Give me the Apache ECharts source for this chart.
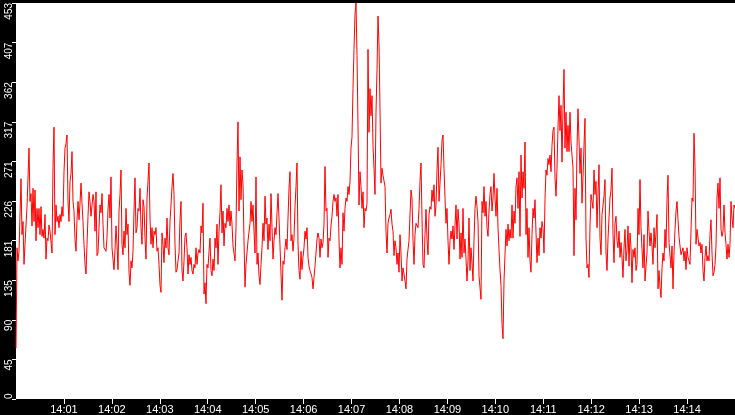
<!DOCTYPE html>
<html>
<head>
<meta charset="utf-8">
<script src="https://cdn.jsdelivr.net/npm/echarts@6/dist/echarts.min.js"></script>
<style>
html,body{margin:0;padding:0;background:#000;}
#chart{width:735px;height:415px;}
</style>
</head>
<body>
<div id="chart"></div>
<script>
// X tick labels (minutes) and their positions in seconds after 14:00:00
const minuteLabels = ['14:01','14:02','14:03','14:04','14:05','14:06','14:07','14:08','14:09','14:10','14:11','14:12','14:13','14:14'];
const minuteSeconds = [60,120,180,240,300,360,420,480,540,600,660,720,780,840];
// Y tick values
const yMax = 453;
const yStep = 45.3;

// Series values (one sample per ~1.25 s, 14:00:00 .. 14:15:00)
const seg1 = [58,173,158,169,169,252,188,203,154,177,177,220,222,287,226,235,198,241,203,239,181,218,196,218,188,220,186,194,184,211,160,184,181,199,192,192,167,266,311,188,222,203,209,196,211,203,220,209,260,287,292,302,226,203,249,258,283,226,215,182,169,205,226,205,224,247,224,203,177,154,143,177,209,237,226,209,211,234,226,192,237];
const seg2 = [164,167,196,222,213,235,200,173,175,169,184,217,234,207,254,173,160,148,171,198,177,148,215,234,262,177,165,192,173,218,188,200,145,130,158,150,169,215,253,190,196,218,215,241,196,177,228,220,184,160,230,249,270,207,177,196,173,192,188,196,169,173,154,130,122,190,177,156,184,173,207,173,165,203,222,243,258,234,177,145];
const seg3 = [148,158,167,205,226,147,135,158,186,190,173,143,165,154,162,147,143,154,150,173,154,167,171,167,198,190,224,120,133,109,154,150,169,184,147,141,160,147,184,173,200,154,192,213,245,190,215,175,201,196,218,203,222,198,215,200,175,167,158,196,271,317,215,277,228,262,245,181,128,154,152,181,179,201,226,203,222,192,167,254];
const seg4 = [154,167,141,131,154,173,201,181,232,200,207,171,200,181,235,196,160,181,196,188,213,235,207,209,143,113,158,154,173,183,171,207,241,260,181,188,169,184,220,243,270,177,147,137,169,148,162,173,192,183,196,162,152,147,148,139,126,139,152,167,183,190,184,162,183,173,179,200,266,215,218,162,184,181,198,209,226,234,226,230];
const seg5 = [209,234,182,150,173,154,213,192,218,230,226,243,234,249,287,300,355,400,440,453,393,313,222,260,243,218,237,196,218,215,224,400,305,355,324,347,290,264,234,328,377,438,406,332,247,264,256,258,243,192,167,201,207,211,217,200,192,164,181,173,154,167,145,188,167,135,150,143,135,126,160,171,181,211,239,230,181,154,188,201];
const seg6 = [200,196,218,249,270,207,154,150,188,217,183,165,211,220,217,239,226,245,209,222,262,288,226,247,268,296,302,264,230,201,218,181,154,181,192,183,198,171,198,222,183,217,201,160,190,162,218,167,183,160,135,158,207,147,173,156,135,181,218,232,220,203,141,143,114,226,213,243,209,226,196,186,215,234,243,215,230,258,230,209];
const seg7 = [241,196,171,148,130,86,69,135,165,194,175,200,181,194,184,222,184,215,201,243,253,218,260,186,279,230,260,241,294,188,218,162,196,158,145,188,218,207,228,190,156,184,164,196,184,203,196,167,228,262,256,275,268,279,260,290,307,311,253,232,264,311,347,307,336,271,332,377,287,328,283,313,283,328,294,279,264,164,241,205];
const seg8 = [288,332,296,258,287,224,254,290,321,184,150,154,139,198,234,226,218,262,234,249,196,235,268,184,165,211,211,232,251,167,147,183,207,230,239,264,188,156,201,209,181,173,192,162,179,162,139,173,194,158,171,198,152,190,173,133,171,162,173,147,154,218,188,251,196,171,150,188,135,152,167,215,192,175,190,175,154,196,173,190];
const seg9 = [211,126,147,128,116,150,167,158,194,173,228,256,179,181,150,175,126,167,194,215,226,205,186,175,165,167,173,158,169,148,173,162,158,154,154,230,226,304,266,177,194,192,175,179,167,177,147,135,162,175,158,164,158,188,205,167,141,145,154,175,230,247,218,253,194,186,192,222,190,177,160,177,162,177,226,207,196,222,218];

const values = [].concat(seg1, seg2, seg3, seg4, seg5, seg6, seg7, seg8, seg9);
const totalSeconds = 900;
const sampleStep = totalSeconds / (values.length - 1);
const seriesData = values.map((v, i) => [i * sampleStep, v]);

const chart = echarts.init(document.getElementById('chart'), null, {renderer: 'canvas'});
chart.setOption({
  backgroundColor: '#000',
  animation: false,
  grid: {
    left: 16, right: 0, top: 0, bottom: 16,
    show: true, backgroundColor: '#fff', borderWidth: 0,
    containLabel: false
  },
  xAxis: {
    type: 'value',
    min: 0, max: totalSeconds, interval: 60,
    splitLine: {show: false},
    axisLine: {show: false},
    axisTick: {show: true, length: 5, lineStyle: {color: '#fff', width: 1}, customValues: minuteSeconds},
    axisLabel: {
      color: '#fff', fontFamily: 'Liberation Sans', fontSize: 11, margin: 5,
      customValues: minuteSeconds,
      formatter: v => minuteLabels[Math.round(v / 60) - 1] || ''
    }
  },
  yAxis: {
    type: 'value',
    min: 0, max: yMax, interval: yStep,
    splitLine: {show: false},
    axisLine: {show: false},
    axisTick: {show: true, length: 4, lineStyle: {color: '#fff', width: 1}},
    axisLabel: {
      color: '#fff', fontFamily: 'Liberation Sans', fontSize: 10, margin: 7,
      rotate: 90, align: 'right', verticalAlign: 'middle',
      alignMinLabel: 'left',
      formatter: v => String(Math.floor(v + 1e-6))
    }
  },
  series: [{
    type: 'line',
    data: seriesData,
    showSymbol: false,
    symbol: 'none',
    lineStyle: {color: '#ff0000', width: 1},
    itemStyle: {color: '#ff0000'}
  }]
});
</script>
</body>
</html>
